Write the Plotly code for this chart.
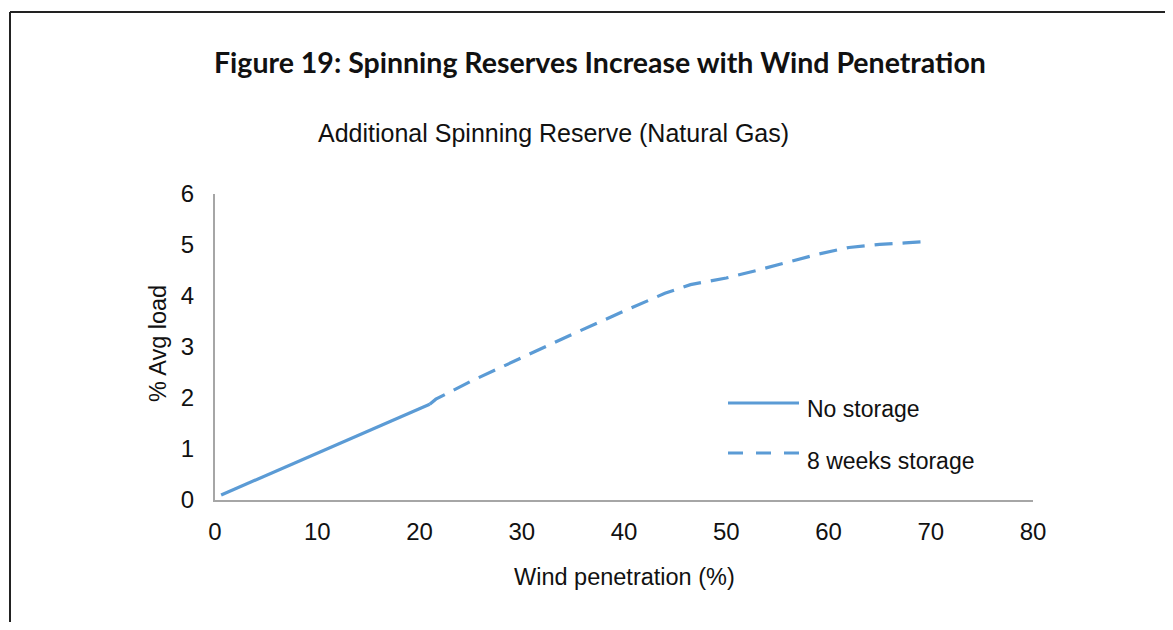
import plotly.graph_objects as go

# ---- data ----
no_storage_x = [0.6, 21]
no_storage_y = [0.09, 1.87]

storage_x = [21, 21.6, 25, 30, 35, 40, 44, 46.5, 50, 53, 56, 59, 62, 65, 67.5, 69.1, 69.5]
storage_y = [1.87, 1.97, 2.32, 2.79, 3.25, 3.70, 4.05, 4.22, 4.35, 4.50, 4.66, 4.82, 4.95, 5.01, 5.04, 5.06, 4.97]

x_ticks = [0, 10, 20, 30, 40, 50, 60, 70, 80]
y_ticks = [0, 1, 2, 3, 4, 5, 6]

series_names = ["No storage", "8 weeks storage"]

title_text = "Figure 19: Spinning Reserves Increase with Wind Penetration"
subtitle_text = "Additional Spinning Reserve (Natural Gas)"
x_title = "Wind penetration (%)"
y_title = "% Avg load"

# ---- layout constants ----
# The page body keeps the browser's 8px margin, so the figure is sized to fit
# inside the 1173x630 window and positions are given in window pixels.
OFF = 8
W, H = 1173 - 2 * OFF, 630 - 2 * OFF
LINE_COLOR = "#5B9BD5"
AXIS_COLOR = "#A6A6A6"
FONT = "Liberation Sans, Arial, sans-serif"
TITLE_FONT = "Lato, Liberation Sans, sans-serif"
TXT = "#111111"

def px(xp):
    return (xp - OFF) / W

def py(yp):
    return 1 - (yp - OFF) / H

fig = go.Figure()
fig.add_trace(go.Scatter(x=no_storage_x, y=no_storage_y, mode="lines", name=series_names[0],
                         line=dict(color=LINE_COLOR, width=3.2), showlegend=False))
fig.add_trace(go.Scatter(x=storage_x, y=storage_y, mode="lines", name=series_names[1],
                         line=dict(color=LINE_COLOR, width=3.2, dash="18px,10px"), showlegend=False))

x0p, x1p = 215, 1033
y0p, y1p = 499.5, 194

fig.update_layout(
    width=W, height=H, autosize=False,
    margin=dict(l=0, r=0, t=0, b=0, pad=0, autoexpand=False),
    paper_bgcolor="white", plot_bgcolor="white",
    showlegend=False,
    font=dict(family=FONT, color=TXT, size=24),
    xaxis=dict(domain=[px(x0p), px(x1p)], range=[0, 80], tickvals=x_ticks, automargin=False,
               showgrid=False, zeroline=False, showline=True, linecolor=AXIS_COLOR, linewidth=2,
               ticks="", ticklabelstandoff=10, tickfont=dict(size=24, family=FONT, color=TXT)),
    yaxis=dict(domain=[py(y0p), py(y1p)], range=[0, 6], tickvals=y_ticks, automargin=False,
               showgrid=False, zeroline=False, showline=True, linecolor=AXIS_COLOR, linewidth=2,
               ticks="", ticklabelstandoff=14, tickfont=dict(size=24, family=FONT, color=TXT)),
)

annotations = [
    dict(text="<b>" + title_text + "</b>", x=px(600), y=py(62), xref="paper", yref="paper",
         showarrow=False, xanchor="center", yanchor="middle",
         font=dict(size=28.5, family=TITLE_FONT, color="#111111")),
    dict(text=subtitle_text, x=px(553), y=py(133), xref="paper", yref="paper",
         showarrow=False, xanchor="center", yanchor="middle",
         font=dict(size=25, family=FONT, color=TXT)),
    dict(text=x_title, x=px(624), y=py(577), xref="paper", yref="paper",
         showarrow=False, xanchor="center", yanchor="middle",
         font=dict(size=23.5, family=FONT, color=TXT)),
    dict(text=y_title, x=px(158), y=py(344), xref="paper", yref="paper",
         showarrow=False, xanchor="center", yanchor="middle", textangle=-90,
         font=dict(size=23.5, family=FONT, color=TXT)),
    dict(text=series_names[0], x=px(805), y=py(409), xref="paper", yref="paper",
         showarrow=False, xanchor="left", yanchor="middle",
         font=dict(size=23, family=FONT, color=TXT)),
    dict(text=series_names[1], x=px(805), y=py(461), xref="paper", yref="paper",
         showarrow=False, xanchor="left", yanchor="middle",
         font=dict(size=23, family=FONT, color=TXT)),
]
fig.update_layout(annotations=annotations)

BORDER = "#222222"
shapes = [
    # main frame
    dict(type="line", xref="paper", yref="paper", x0=px(10), x1=1, y0=py(12), y1=py(12),
         line=dict(color=BORDER, width=2)),
    dict(type="line", xref="paper", yref="paper", x0=px(10), x1=px(10), y0=py(12), y1=0,
         line=dict(color=BORDER, width=2)),
    # legend samples
    dict(type="line", xref="paper", yref="paper", x0=px(728), x1=px(799), y0=py(403), y1=py(403),
         line=dict(color=LINE_COLOR, width=3.2)),
    dict(type="line", xref="paper", yref="paper", x0=px(728), x1=px(799), y0=py(453), y1=py(453),
         line=dict(color=LINE_COLOR, width=3.2, dash="15px,13px")),
]
fig.update_layout(shapes=shapes)

fig.write_html("out.html", config={"displayModeBar": False})
